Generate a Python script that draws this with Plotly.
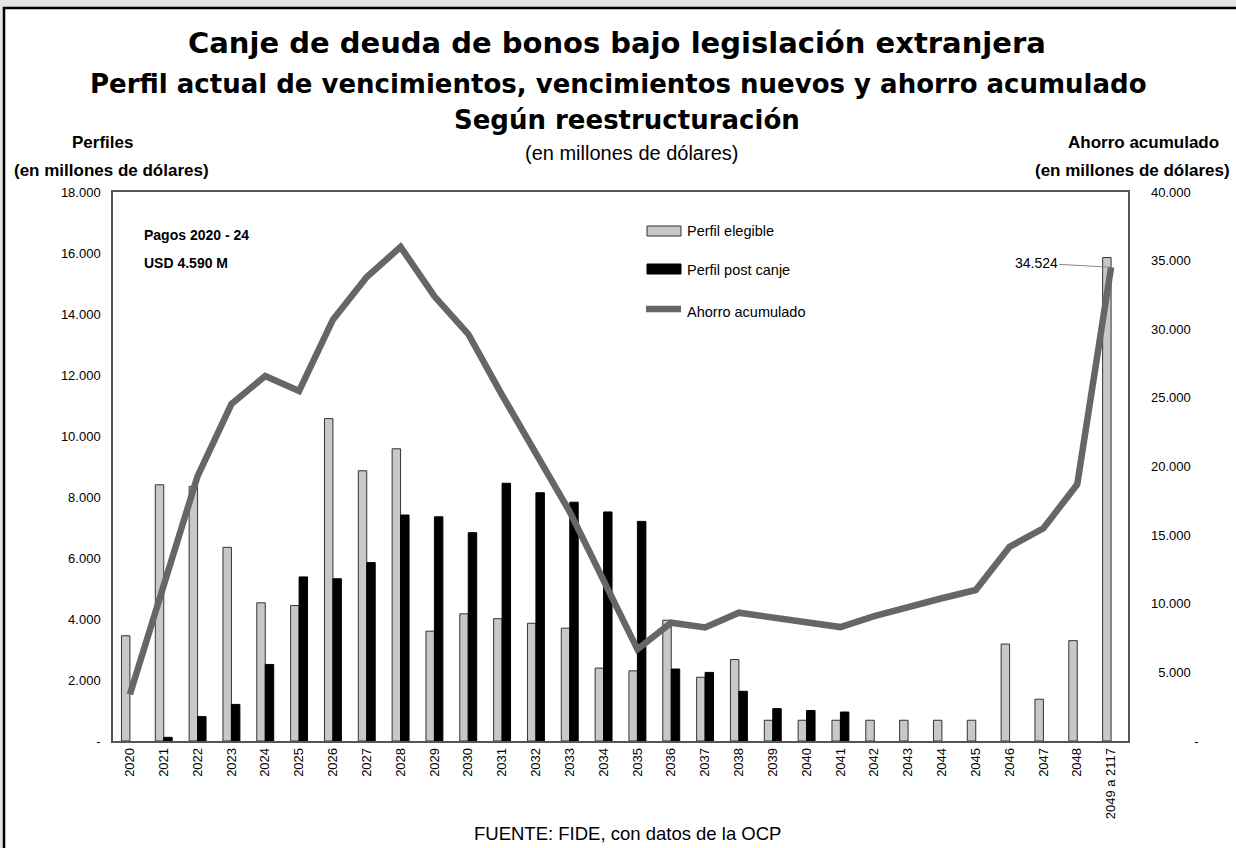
import plotly.graph_objects as go

# categories and values
categorias = ["2020", "2021", "2022", "2023", "2024", "2025", "2026", "2027", "2028", "2029",
              "2030", "2031", "2032", "2033", "2034", "2035", "2036", "2037", "2038", "2039",
              "2040", "2041", "2042", "2043", "2044", "2045", "2046", "2047", "2048", "2049 a 2117"]

perfil_elegible = [3450, 8400, 8350, 6350, 4530, 4440, 10570, 8860, 9580, 3600,
                   4170, 4010, 3860, 3700, 2390, 2300, 3960, 2090, 2670, 680,
                   680, 680, 680, 680, 680, 680, 3180, 1370, 3290, 15850]

perfil_post_canje = [None, 120, 800, 1200, 2510, 5380, 5320, 5850, 7410, 7350,
                     6830, 8450, 8140, 7830, 7510, 7200, 2360, 2250, 1630, 1060,
                     1000, 950, None, None, None, None, None, None, None, None]

ahorro_acumulado = [3400, 11200, 19300, 24550, 26600, 25500, 30700, 33800, 36000, 32400,
                    29650, 25200, 21000, 16700, 11700, 6680, 8620, 8280, 9350, 9030,
                    8670, 8300, 9100, 9800, 10400, 11000, 14150, 15500, 18700, 34524]

ticks_izq = [0, 2000, 4000, 6000, 8000, 10000, 12000, 14000, 16000, 18000]
ticks_izq_txt = ["-", "2.000", "4.000", "6.000", "8.000", "10.000", "12.000", "14.000", "16.000", "18.000"]
ticks_der = [0, 5000, 10000, 15000, 20000, 25000, 30000, 35000, 40000]
ticks_der_txt = ["\u2007" * 5 + "  -", "\u20075.000", "10.000", "15.000", "20.000",
                 "25.000", "30.000", "35.000", "40.000"]

FONT = "Liberation Sans, Arial, sans-serif"
TITLE = "DejaVu Sans, Roboto, sans-serif"

W, H = 1236, 848
L, R, T, B = 113, 1128, 192, 741


def px(x):
    return (x - L) / (R - L)


def py(y):
    return (B - y) / (B - T)


fig = go.Figure()

fig.add_trace(go.Bar(
    x=categorias, y=perfil_elegible, name="Perfil elegible",
    marker=dict(color="#c8c8c8", line=dict(color="#333333", width=1)),
))
fig.add_trace(go.Bar(
    x=categorias, y=perfil_post_canje, name="Perfil post canje",
    marker=dict(color="black", line=dict(color="black", width=1)),
))
fig.add_trace(go.Scatter(
    x=categorias, y=ahorro_acumulado, name="Ahorro acumulado", yaxis="y2",
    mode="lines", line=dict(color="#666666", width=6.5),
))

annotations = []


def text(x, y, s, size, family=FONT, anchor="center", color="black"):
    annotations.append(dict(
        x=px(x), y=py(y), xref="paper", yref="paper", text=s, showarrow=False,
        xanchor=anchor, yanchor="middle", font=dict(family=family, size=size, color=color),
    ))


# titles
text(617, 43, "<b>Canje de deuda de bonos bajo legislación extranjera</b>", 29, TITLE)
text(618, 84, "<b>Perfil actual de vencimientos, vencimientos nuevos y ahorro acumulado</b>", 26, TITLE)
text(627, 120, "<b>Según reestructuración</b>", 26, TITLE)
text(631, 153, "(en millones de dólares)", 20)

# axis titles
text(102, 142, "<b>Perfiles</b>", 17)
text(111, 170, "<b>(en millones de dólares)</b>", 17)
text(1143, 142, "<b>Ahorro acumulado</b>", 17)
text(1132, 170, "<b>(en millones de dólares)</b>", 17)

# inner notes
text(142, 235, "<b>Pagos 2020 - 24</b>", 14, anchor="left")
text(142, 263, "<b>USD 4.590 M</b>", 14, anchor="left")

# legend texts
text(685, 231, "Perfil elegible", 14.5, anchor="left")
text(685, 270, "Perfil post canje", 14.5, anchor="left")
text(685, 312, "Ahorro acumulado", 14.5, anchor="left")

# source
text(627, 833, "FUENTE: FIDE, con datos de la OCP", 18.5)

# last value label
annotations.append(dict(
    x=categorias[-1], y=ahorro_acumulado[-1], xref="x", yref="y2",
    text="34.524", showarrow=True, arrowhead=0, arrowwidth=1, arrowcolor="#888888",
    ax=-75, ay=-4, standoff=2,
    font=dict(family=FONT, size=14, color="black"),
))

shapes = [
    # white sheet with black border on light gray background
    dict(type="rect", xref="paper", yref="paper", layer="below",
         x0=px(4), x1=px(1250), y0=py(860), y1=py(8),
         fillcolor="white", line=dict(color="black", width=2.5)),
    # legend swatches
    dict(type="rect", xref="paper", yref="paper",
         x0=px(647), x1=px(681), y0=py(236), y1=py(226),
         fillcolor="#c8c8c8", line=dict(color="#333333", width=1)),
    dict(type="rect", xref="paper", yref="paper",
         x0=px(647), x1=px(681), y0=py(274), y1=py(264),
         fillcolor="black", line=dict(color="black", width=1)),
    dict(type="line", xref="paper", yref="paper",
         x0=px(646), x1=px(681), y0=py(309), y1=py(309),
         line=dict(color="#666666", width=6.5)),
]

fig.update_layout(
    width=W, height=H,
    margin=dict(l=L, r=W - R, t=T, b=H - B),
    paper_bgcolor="#e6e6e6", plot_bgcolor="white",
    barmode="group", bargap=0.5, bargroupgap=0,
    showlegend=False,
    annotations=annotations, shapes=shapes,
    xaxis=dict(
        type="category", tickangle=-90, ticks="", showgrid=False,
        showline=True, linecolor="#555555", linewidth=1.5, mirror=True,
        tickfont=dict(family=FONT, size=13, color="black"),
    ),
    yaxis=dict(
        range=[0, 18000], tickvals=ticks_izq, ticktext=ticks_izq_txt,
        showgrid=False, zeroline=False, ticks="",
        showline=True, linecolor="#555555", linewidth=1.5, mirror=True,
        tickfont=dict(family=FONT, size=13, color="black"), ticklabelstandoff=8,
    ),
    yaxis2=dict(
        range=[0, 40000], tickvals=ticks_der, ticktext=ticks_der_txt,
        overlaying="y", side="right", showgrid=False, zeroline=False, ticks="",
        showline=False,
        tickfont=dict(family=FONT, size=13, color="black"), ticklabelstandoff=22,
    ),
)

fig.write_html(
    "out.html",
    config={"displayModeBar": False},
    post_script="document.body.style.margin='0';document.body.style.overflow='hidden';",
)
